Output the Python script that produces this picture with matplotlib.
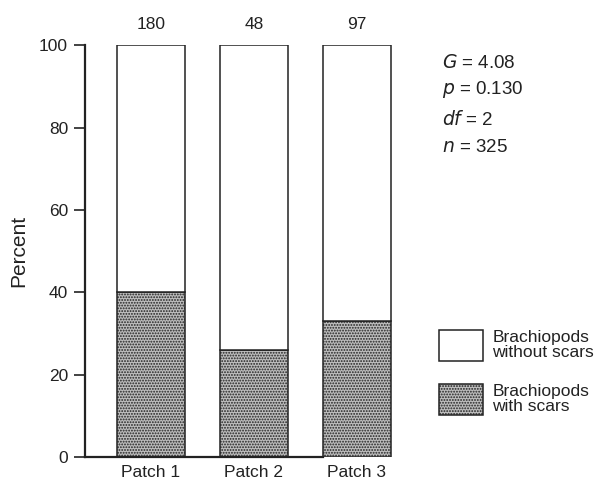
import matplotlib
matplotlib.use("Agg")
import matplotlib.pyplot as plt
import numpy as np

plt.rcParams['font.family'] = ['Liberation Sans', 'DejaVu Sans']
plt.rcParams['hatch.color'] = '#454545'
plt.rcParams['hatch.linewidth'] = 0.9

patches = ['Patch 1', 'Patch 2', 'Patch 3']
counts = [180, 48, 97]
with_scars = [40, 26, 33]
without_scars = [100 - v for v in with_scars]
stats = ['$G$ = 4.08', '$p$ = 0.130', '$df$ = 2', '$n$ = 325']

fig = plt.figure(figsize=(6.14, 4.86), dpi=100)
ax = fig.add_axes([0.138, 0.060, 0.544, 0.847])

x = np.arange(len(patches))
w = 0.66
b1 = ax.bar(x, with_scars, w, color='#bdbdbd', edgecolor='#222222',
            hatch='......', linewidth=1.1, label='Brachiopods\nwith scars')
b2 = ax.bar(x, without_scars, w, bottom=with_scars, color='white',
            edgecolor='#222222', linewidth=1.1, label='Brachiopods\nwithout scars')

for xi, c in zip(x, counts):
    ax.text(xi, 105, str(c), ha='center', va='center', fontsize=12.5, color='#222222')

ax.set_xlim(-0.64, 2.6)
ax.set_ylim(0, 100)
ax.set_xticks(x)
ax.set_xticklabels(patches, fontsize=12.5, color='#222222')
ax.set_yticks(range(0, 101, 20))
ax.tick_params(axis='y', labelsize=12.5, length=8, width=1.2, colors='#222222', pad=4)
ax.tick_params(axis='x', length=0, pad=6)
ax.set_ylabel('Percent', fontsize=15, color='#222222', labelpad=8)

for s in ['top', 'right']:
    ax.spines[s].set_visible(False)
ax.spines['left'].set_linewidth(1.6)
ax.spines['bottom'].set_linewidth(1.6)
ax.spines['bottom'].set_bounds(-0.64, 2 - w / 2)
ax.spines['left'].set_color('#222222')
ax.spines['bottom'].set_color('#222222')

ys = [0.871, 0.815, 0.755, 0.696]
for y, s in zip(ys, stats):
    fig.text(0.720, y, s, fontsize=13.5, va='center', color='#222222')

leg = ax.legend(handles=[b2, b1], loc='upper left', bbox_to_anchor=(0.704, 0.335),
                bbox_transform=fig.transFigure, frameon=False, fontsize=12.5,
                handlelength=2.5, handleheight=2.4, handletextpad=0.55,
                labelspacing=1.3, borderaxespad=0)
for t in leg.get_texts():
    t.set_linespacing(0.95)
    t.set_color('#222222')

fig.savefig('out.png', dpi=100)
